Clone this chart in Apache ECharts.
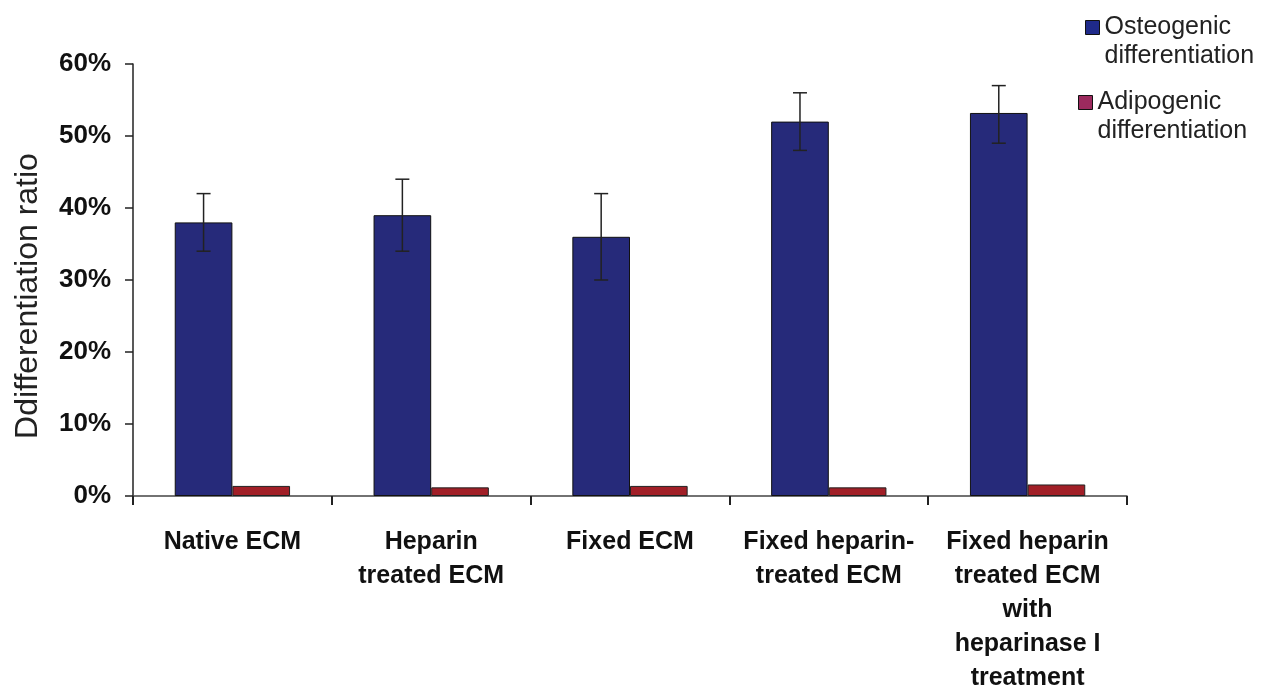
<!DOCTYPE html>
<html>
<head>
<meta charset="utf-8">
<script src="https://cdn.jsdelivr.net/npm/echarts@6/dist/echarts.min.js"></script>
<style>html,body{margin:0;padding:0;background:#fff;}#c{width:1263px;height:687px;}</style>
</head>
<body>
<div id="c"></div>
<script>
var categories = ["Native ECM", "Heparin\ntreated ECM", "Fixed ECM", "Fixed heparin-\ntreated ECM", "Fixed heparin\ntreated ECM\nwith\nheparinase I\ntreatment"];
var osteogenic = [38, 39, 36, 52, 53.2];
var osteoLow = [34, 34, 30, 48, 49];
var osteoHigh = [42, 44, 42, 56, 57];
var adipogenic = [1.4, 1.2, 1.4, 1.2, 1.6];
var yTicks = [0, 10, 20, 30, 40, 50, 60];
var seriesNames = ['Osteogenic\ndifferentiation', 'Adipogenic\ndifferentiation'];

var chart = echarts.init(document.getElementById('c'));
var errData = categories.map(function (c, i) { return [i, osteoLow[i], osteoHigh[i]]; });

var legendText = { fontFamily: 'Liberation Sans, Arial', fontSize: 25, color: '#222', lineHeight: 29 };
function legendFmt(n) { return '\n' + n; }

chart.setOption({
  animation: false,
  backgroundColor: '#fff',
  grid: { left: 133, right: 136, top: 64, bottom: 191, containLabel: false, outerBoundsMode: 'none' },
  legend: [
    {
      orient: 'vertical', left: 1080, top: -21, icon: 'rect', itemWidth: 14, itemHeight: 14,
      textStyle: legendText, formatter: legendFmt,
      data: [{ name: seriesNames[0], itemStyle: { color: '#1f2a8a', borderColor: '#111', borderWidth: 1 } }]
    },
    {
      orient: 'vertical', left: 1073, top: 54, icon: 'rect', itemWidth: 14, itemHeight: 14,
      textStyle: legendText, formatter: legendFmt,
      data: [{ name: seriesNames[1], itemStyle: { color: '#9c2a5e', borderColor: '#111', borderWidth: 1 } }]
    }
  ],
  xAxis: {
    type: 'category',
    data: categories,
    axisLine: { lineStyle: { color: '#444', width: 1.5 } },
    axisTick: { show: true, inside: false, length: 9, lineStyle: { color: '#222', width: 2 } },
    axisLabel: {
      interval: 0,
      margin: 29,
      fontFamily: 'Liberation Sans, Arial',
      fontWeight: 'bold',
      fontSize: 25,
      color: '#111',
      lineHeight: 34,
      verticalAlign: 'top'
    }
  },
  yAxis: {
    type: 'value',
    min: 0,
    max: 60,
    interval: 10,
    name: 'Ddifferentiation ratio',
    nameLocation: 'middle',
    nameGap: 89,
    nameTextStyle: { fontFamily: 'Liberation Sans, Arial', fontSize: 32, color: '#222', padding: [0, 32, 0, 0] },
    splitLine: { show: false },
    axisLine: { show: true, lineStyle: { color: '#222', width: 1.5 } },
    axisTick: { show: true, length: 8, lineStyle: { color: '#222', width: 1.5 } },
    axisLabel: {
      margin: 22,
      fontFamily: 'Liberation Sans, Arial',
      fontWeight: 'bold',
      fontSize: 26,
      color: '#111',
      formatter: function (v) { return yTicks.indexOf(v) >= 0 ? v + '%' : ''; }
    }
  },
  series: [
    {
      name: seriesNames[0],
      type: 'bar',
      data: osteogenic,
      barGap: '0%',
      barCategoryGap: '42%',
      itemStyle: { color: '#262a7a', borderColor: '#111', borderWidth: 1 }
    },
    {
      name: seriesNames[1],
      type: 'bar',
      data: adipogenic,
      itemStyle: { color: '#a11f27', borderColor: '#222', borderWidth: 1 }
    },
    {
      type: 'custom',
      data: errData,
      z: 10,
      renderItem: function (params, api) {
        var band = api.size([1, 0])[0];
        var center = api.coord([api.value(0), 0])[0];
        var x = center - band * 0.145;
        var lo = api.coord([api.value(0), api.value(1)])[1];
        var hi = api.coord([api.value(0), api.value(2)])[1];
        var cap = 7;
        var style = { stroke: '#222', lineWidth: 1.5 };
        return {
          type: 'group',
          children: [
            { type: 'line', shape: { x1: x, y1: hi, x2: x, y2: lo }, style: style },
            { type: 'line', shape: { x1: x - cap, y1: hi, x2: x + cap, y2: hi }, style: style },
            { type: 'line', shape: { x1: x - cap, y1: lo, x2: x + cap, y2: lo }, style: style }
          ]
        };
      }
    }
  ]
});
</script>
</body>
</html>
